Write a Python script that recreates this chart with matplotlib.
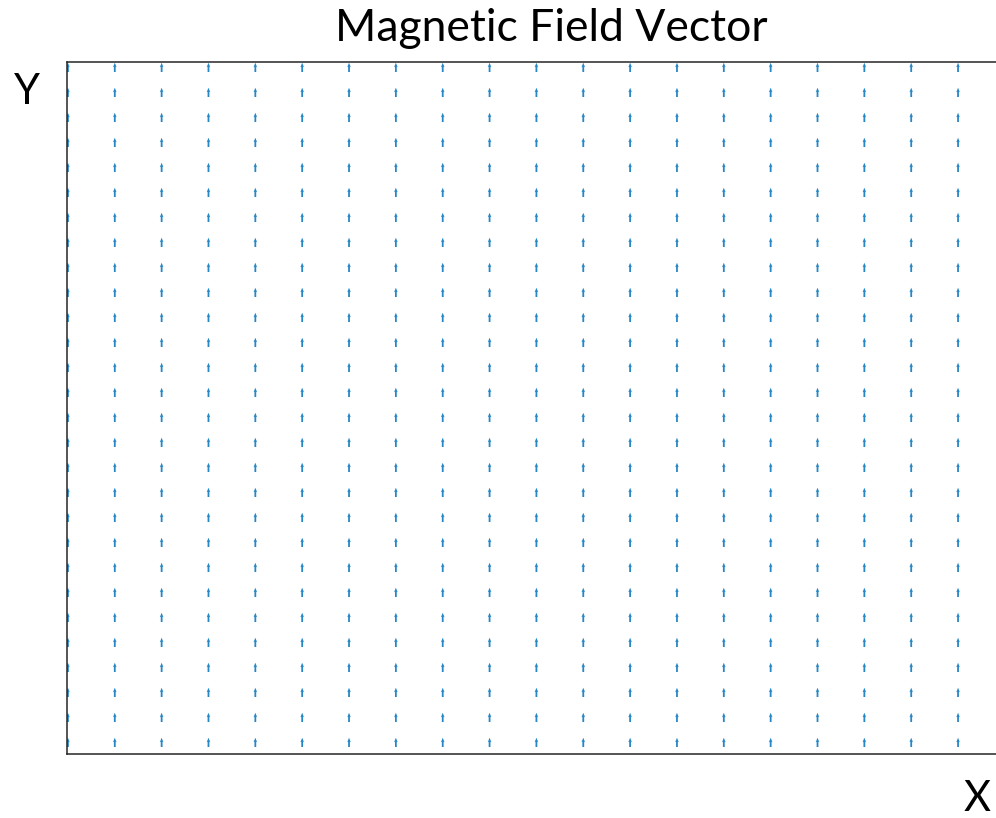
import numpy as np
import matplotlib
matplotlib.use('Agg')
import matplotlib.pyplot as plt

# grid of sample points (columns / rows) and the field components
x_pts = [0, 1, 2, 3, 4, 5, 6, 7, 8, 9, 10, 11, 12, 13, 14, 15, 16, 17, 18, 19]
y_pts = [0, 1, 2, 3, 4, 5, 6, 7, 8, 9, 10, 11, 12, 13,
         14, 15, 16, 17, 18, 19, 20, 21, 22, 23, 24, 25, 26, 27]
bx_val = 0.0   # field points straight up everywhere
by_val = 1.0

title_txt = 'Magnetic Field Vector'
xlabel_txt = 'X'
ylabel_txt = 'Y'

plt.rcParams['font.family'] = ['Lato', 'DejaVu Sans']

W, H = 996, 818
fig = plt.figure(figsize=(W / 100, H / 100), dpi=100)

# axes box: left 67px, right at image edge, top 62px, bottom 754px
ax = fig.add_axes([67 / W, (H - 754) / H, (W - 67) / W, (754 - 62) / H])

X, Y = np.meshgrid(x_pts, y_pts)
U = np.full(X.shape, bx_val)
V = np.full(X.shape, by_val)

ax.quiver(X, Y, U, V, color='#0072BD', angles='xy', scale_units='xy',
          scale=2.7, units='dots', width=1.8, headwidth=2.0,
          headlength=2.5, headaxislength=2.2, pivot='tail', alpha=0.85)

ax.set_xlim(-0.02, 19.81)
ax.set_ylim(-0.28, 27.4)
ax.set_xticks([])
ax.set_yticks([])
for side in ['left', 'bottom', 'top']:
    ax.spines[side].set_color('#262626')
    ax.spines[side].set_linewidth(1.1)
ax.spines['right'].set_visible(False)

fig.text(551 / W, 1 - 41 / H, title_txt, ha='center', va='baseline', fontsize=32)
fig.text(27 / W, 1 - 104 / H, ylabel_txt, ha='center', va='baseline', fontsize=30)
fig.text(977 / W, 1 - 811 / H, xlabel_txt, ha='center', va='baseline', fontsize=30)

fig.savefig('out.png', dpi=100)
